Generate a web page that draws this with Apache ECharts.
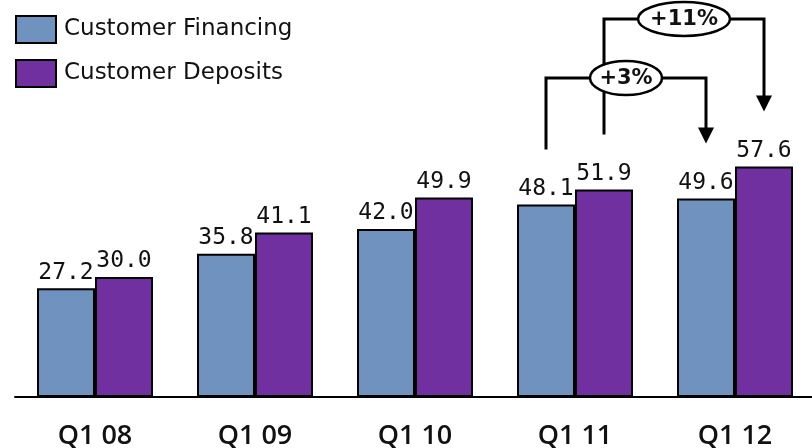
<!DOCTYPE html>
<html>
<head>
<meta charset="utf-8">
<script src="https://cdn.jsdelivr.net/npm/echarts@6/dist/echarts.min.js"></script>
<style>
  html, body { margin: 0; padding: 0; background: #fff; }
  #main { width: 812px; height: 448px; }
</style>
</head>
<body>
<div id="main"></div>
<script>
var quarters = ['Q1 08', 'Q1 09', 'Q1 10', 'Q1 11', 'Q1 12'];
var financing = [27.2, 35.8, 42.0, 48.1, 49.6];
var deposits = [30.0, 41.1, 49.9, 51.9, 57.6];
var growthLabels = ['+3%', '+11%'];

var blue = '#7092BE';
var purple = '#7030A0';
var barW = 58;

var chart = echarts.init(document.getElementById('main'));

function valLabel() {
    return {
        show: true,
        position: 'top',
        distance: 4,
        fontFamily: 'DejaVu Sans Mono',
        fontSize: 23,
        color: '#111',
        formatter: function (p) { return p.value.toFixed(1); }
    };
}

chart.setOption({
    animation: false,
    legend: {
        orient: 'vertical',
        left: 10,
        top: 10,
        icon: 'rect',
        itemWidth: 40,
        itemHeight: 27,
        itemGap: 15,
        itemStyle: { borderColor: '#000', borderWidth: 2 },
        textStyle: { fontFamily: 'DejaVu Sans', fontSize: 23, color: '#111', padding: [0, 0, 0, 3] },
        data: ['Customer Financing', 'Customer Deposits']
    },
    grid: { left: 15, width: 800, top: 157, height: 240, outerBoundsMode: 'none', containLabel: false },
    xAxis: {
        type: 'category',
        data: quarters,
        axisLine: { lineStyle: { color: '#000', width: 2 } },
        axisTick: { show: false },
        axisLabel: { fontFamily: 'Open Sans', fontWeight: 600, fontSize: 27, color: '#111', margin: 26 }
    },
    yAxis: { type: 'value', min: 0, max: 60, show: false, splitLine: { show: false } },
    series: [
        {
            name: 'Customer Financing',
            type: 'bar',
            data: financing,
            barWidth: barW,
            barGap: '0%',
            itemStyle: { color: blue, borderColor: '#000', borderWidth: 2 },
            label: valLabel()
        },
        {
            name: 'Customer Deposits',
            type: 'bar',
            data: deposits,
            barWidth: barW,
            itemStyle: { color: purple, borderColor: '#000', borderWidth: 2 },
            label: valLabel()
        }
    ]
});

// growth brackets, placed from the axis scales
function barX(cat, which) {
    var c = chart.convertToPixel({ xAxisIndex: 0 }, cat);
    return which === 0 ? c - barW / 2 : c + barW / 2;
}
function barTop(v) {
    return chart.convertToPixel({ yAxisIndex: 0 }, v);
}

function bracket(fromX, fromY, toX, toY, levelY, text, rx, ry) {
    var midX = (fromX + toX) / 2;
    var els = [];
    var ls = { stroke: '#000', lineWidth: 3 };
    els.push({ type: 'polyline', shape: { points: [[fromX, fromY], [fromX, levelY], [midX - rx, levelY]] }, style: ls, z: 10 });
    els.push({ type: 'polyline', shape: { points: [[midX + rx, levelY], [toX, levelY], [toX, toY - 15]] }, style: ls, z: 10 });
    els.push({ type: 'polygon', shape: { points: [[toX - 8, toY - 16], [toX + 8, toY - 16], [toX, toY]] }, style: { fill: '#000' }, z: 10 });
    els.push({
        type: 'ellipse', shape: { cx: midX, cy: levelY, rx: rx, ry: ry },
        style: { fill: '#fff', stroke: '#000', lineWidth: 2.5 }, z: 11
    });
    els.push({
        type: 'text', x: midX, y: levelY + 1, z: 12,
        style: { text: text, fill: '#111', fontFamily: 'DejaVu Sans', fontWeight: 'bold', fontSize: 21, align: 'center', verticalAlign: 'middle' }
    });
    return els;
}

var gap = 55;
var g = [];
g = g.concat(bracket(barX('Q1 11', 0), barTop(financing[3]) - gap,
    barX('Q1 12', 0), barTop(financing[4]) - gap, 78, growthLabels[0], 36, 17));
g = g.concat(bracket(barX('Q1 11', 1), barTop(deposits[3]) - gap,
    barX('Q1 12', 1), barTop(deposits[4]) - gap, 19, growthLabels[1], 46, 17));

chart.setOption({ graphic: g });
</script>
</body>
</html>
